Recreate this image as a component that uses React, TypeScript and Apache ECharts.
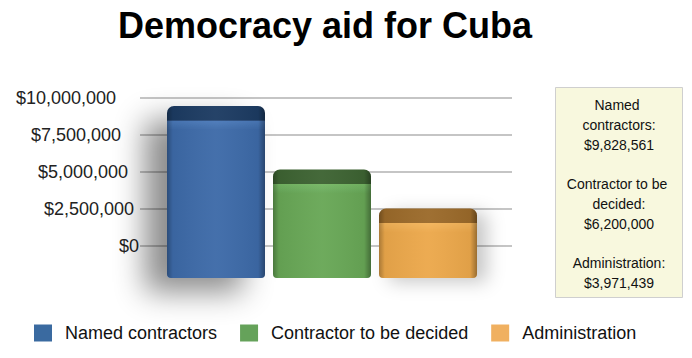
import React, { useEffect, useRef } from "react";
import * as echarts from "echarts";

const categories = ["Named contractors", "Contractor to be decided", "Administration"];
const values = [9828561, 6200000, 3971439];
const axisMin = 0;
const axisMax = 10000000;
const axisInterval = 2500000;
const title = "Democracy aid for Cuba";

const FONT = "'Liberation Sans', Arial, Helvetica, sans-serif";

const frontColors = ["#3d6aa8", "#67a757", "#eca84b"];
const highlightColors = ["#4a79b9", "#74b664", "#f3b45a"];
const topColors = ["#1f3b62", "#3e6432", "#9b6b2c"];
const legendColors = ["#3a6aa0", "#65a25a", "#f0b060"];

const fmt = (v: number) => "$" + Math.round(v).toLocaleString("en-US");

export default function App() {
  const ref = useRef<HTMLDivElement>(null);
  useEffect(() => {
    document.body.style.margin = "0";
    if (!ref.current) return;
    const chart = echarts.init(ref.current, undefined, { renderer: "svg" });

    const barGridTop = 103;
    const barGridHeight = 175;
    const pxPerUnit = barGridHeight / (axisMax - axisMin);
    const topFacePx = 15;

    const labelPad = [0, 5, 11, 18, 23];

    const barSeries: any[] = categories.map((name, i) => {
      const h = values[i] * pxPerUnit;
      const s = Math.min(0.5, topFacePx / h);
      return {
        name,
        type: "bar",
        xAxisIndex: 1,
        yAxisIndex: 1,
        barWidth: 98,
        barGap: "-100%",
        data: categories.map((_, j) => (j === i ? values[i] : "-")),
        itemStyle: {
          borderRadius: [7, 7, 4, 4],
          color: new echarts.graphic.LinearGradient(0, 0, 0, 1, [
            { offset: 0, color: topColors[i] },
            { offset: s * 0.95, color: topColors[i] },
            { offset: s, color: highlightColors[i] },
            { offset: Math.min(1, s * 1.6), color: frontColors[i] },
            { offset: 1, color: frontColors[i] },
          ]),
          shadowColor: i === 0 ? "rgba(0,0,0,0.45)" : i === 2 ? "rgba(0,0,0,0.22)" : "rgba(0,0,0,0)",
          shadowBlur: i === 0 ? 30 : i === 2 ? 18 : 0,
          shadowOffsetX: i === 0 ? -22 : i === 2 ? 10 : 0,
          shadowOffsetY: i === 0 ? 14 : 4,
        },
      };
    });

    const overlay = {
      name: "shade",
      type: "bar",
      xAxisIndex: 1,
      yAxisIndex: 1,
      barWidth: 98,
      barGap: "-100%",
      silent: true,
      data: values,
      itemStyle: {
        borderRadius: [7, 7, 4, 4],
        color: new echarts.graphic.LinearGradient(0, 0, 1, 0, [
          { offset: 0, color: "rgba(0,0,0,0.28)" },
          { offset: 0.06, color: "rgba(0,0,0,0.05)" },
          { offset: 0.5, color: "rgba(255,255,255,0.04)" },
          { offset: 0.93, color: "rgba(0,0,0,0.05)" },
          { offset: 1, color: "rgba(0,0,0,0.35)" },
        ]),
      },
    };

    const boxText = categories.map((n, i) => `${n}:\n${fmt(values[i])}`).join("\n\n");

    chart.setOption({
      animation: false,
      backgroundColor: "#ffffff",
      title: {
        text: title,
        left: 320,
        textAlign: "center",
        top: 2,
        textStyle: { fontSize: 36, fontWeight: "bold", color: "#000", fontFamily: FONT },
      },
      legend: {
        data: categories.map((n, i) => ({ name: n, itemStyle: { color: legendColors[i] } })),
        left: 29,
        top: 319,
        icon: "rect",
        itemWidth: 18,
        itemHeight: 17,
        itemGap: 23,
        textStyle: { fontSize: 18, color: "#111", fontFamily: FONT, padding: [0, 0, 0, 8] },
      },
      grid: [
        { left: 140, right: 180, top: 98, bottom: 112 },
        { left: 163, width: 318, top: barGridTop, height: barGridHeight },
      ],
      xAxis: [
        { type: "category", gridIndex: 0, data: categories, show: false },
        { type: "category", gridIndex: 1, data: categories, show: false },
      ],
      yAxis: [
        {
          type: "value",
          gridIndex: 0,
          min: axisMin,
          max: axisMax,
          interval: axisInterval,
          axisLine: { show: false },
          axisTick: { show: false },
          splitLine: { lineStyle: { color: "#b2b2b2", width: 1.5 } },
          axisLabel: {
            margin: 1,
            fontSize: 18,
            color: "#222",
            fontFamily: FONT,
            formatter: (v: number, idx: number) => `{p${idx}|${fmt(v)}}`,
            rich: Object.fromEntries(
              labelPad.map((p, k) => [
                `p${k}`,
                { padding: [0, p, 0, 0], fontSize: 18, color: "#222", fontFamily: FONT },
              ])
            ),
          },
        },
        {
          type: "value",
          gridIndex: 1,
          min: axisMin,
          max: axisMax,
          show: false,
          splitLine: { show: false },
        },
      ],
      graphic: [
        {
          type: "group",
          children: [
            {
              type: "rect",
              shape: { x: 555.5, y: 87.5, width: 127, height: 210 },
              style: { fill: "#f8f8de", stroke: "#cfcfcf", lineWidth: 1 },
            },
            {
              type: "text",
              x: 619,
              y: 95,
              style: {
                text: boxText,
                width: 114,
                overflow: "break",
                align: "center",
                verticalAlign: "top",
                fontSize: 14,
                lineHeight: 19.8,
                fill: "#111",
                fontFamily: FONT,
              },
            },
          ],
        },
      ],
      series: [...barSeries, overlay],
    });
    return () => chart.dispose();
  }, []);
  return <div ref={ref} style={{ width: 692, height: 358 }} />;
}
